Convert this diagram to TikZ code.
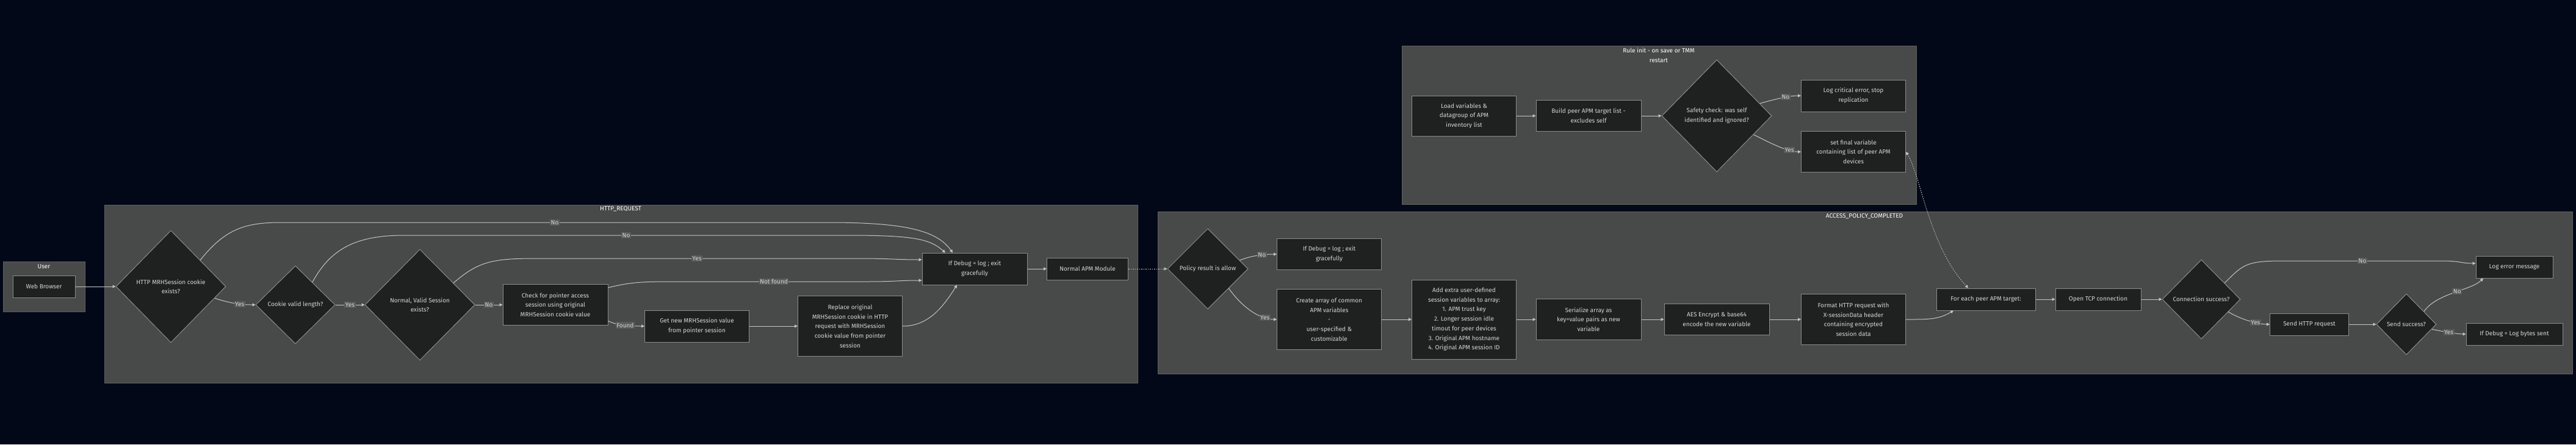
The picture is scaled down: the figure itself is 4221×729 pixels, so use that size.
\documentclass[tikz,border=0pt]{standalone}
\usepackage{fontspec}
\setmainfont{Fira Sans}
\usetikzlibrary{shapes.geometric, arrows.meta}
\definecolor{canvas}{HTML}{020817}
\definecolor{clusterbg}{HTML}{484949}
\definecolor{clusterline}{HTML}{5E6060}
\definecolor{nodebg}{HTML}{1F2020}
\definecolor{nodeline}{HTML}{8A8A8A}
\definecolor{edgeline}{HTML}{C4C4C4}
\definecolor{labelbg}{HTML}{5A5B5B}
\definecolor{nodetext}{HTML}{D4D4D4}
\tikzstyle{every node} = [font=\fontsize{10}{15.7}\selectfont, text=nodetext]
\tikzstyle{cluster} = [draw=clusterline, fill=clusterbg, line width=1pt]
\tikzstyle{title} = [text=white, align=center, inner sep=0pt]
\tikzstyle{box} = [rectangle, draw=nodeline, fill=nodebg, line width=1pt, align=center, inner sep=0pt]
\tikzstyle{decision} = [diamond, draw=nodeline, fill=nodebg, line width=1pt, align=center, inner sep=0pt]
\tikzstyle{flow} = [draw=edgeline, line width=1pt, -{Triangle[length=5pt, width=5pt]}]
\tikzstyle{dotflow} = [flow, dash pattern=on 1.5pt off 2pt]
\tikzstyle{lbl} = [fill=labelbg, inner sep=1.5pt]
\begin{document}
\begin{tikzpicture}[x=1pt, y=-1pt]
    \useasboundingbox (0,0) rectangle (4221,729);
    \fill[canvas] (0,0) rectangle (4221,729);
    \draw[cluster] (5,429) rectangle (139,511);
    \draw[cluster] (171,336) rectangle (1864,628);
    \draw[cluster] (2297,75) rectangle (3140,335);
    \draw[cluster] (1897,347) rectangle (4215,613);
    \node[title] (userT) at (72,437) {User};
    \node[title] (httpT) at (1017,343) {HTTP\_REQUEST};
    \node[title] (initT) at (2718,90.5) {Rule init - on save or TMM\\restart};
    \node[title] (policyT) at (3055,355) {ACCESS\_POLICY\_COMPLETED};

    \node[box, minimum width=102pt, minimum height=36pt] (web) at (72,470) {Web Browser};

    \node[decision, minimum width=180pt, minimum height=184pt] (cookie) at (280,470) {HTTP MRHSession cookie\\exists?};
    \node[decision, minimum width=130pt, minimum height=128pt] (length) at (484,500) {Cookie valid length?};
    \node[decision, minimum width=180pt, minimum height=182pt] (valid) at (688,500) {Normal, Valid Session\\exists?};
    \node[box, minimum width=172pt, minimum height=67pt] (pointer) at (910,500) {Check for pointer access\\session using original\\MRHSession cookie value};
    \node[box, minimum width=171pt, minimum height=52pt] (getnew) at (1142,535) {Get new MRHSession value\\from pointer session};
    \node[box, minimum width=171pt, minimum height=99pt] (replace) at (1393,535) {Replace original\\MRHSession cookie in HTTP\\request with MRHSession\\cookie value from pointer\\session};
    \node[box, minimum width=172pt, minimum height=52pt] (exitA) at (1597,441) {If Debug = log ; exit\\gracefully};
    \node[box, minimum width=133pt, minimum height=36pt] (apm) at (1782,441) {Normal APM Module};

    \node[box, minimum width=171pt, minimum height=66pt] (load) at (2399,190) {Load variables \&\\datagroup of APM\\inventory list};
    \node[box, minimum width=172pt, minimum height=51pt] (build) at (2603,190) {Build peer APM target list -\\excludes self};
    \node[decision, minimum width=180pt, minimum height=184pt] (safety) at (2813,190) {Safety check: was self\\identified and ignored?};
    \node[box, minimum width=171pt, minimum height=52pt] (critical) at (3037,157) {Log critical error, stop\\replication};
    \node[box, minimum width=171pt, minimum height=67pt] (final) at (3037,249) {set final variable\\containing list of peer APM\\devices};

    \node[decision, minimum width=132pt, minimum height=132pt] (policy) at (1979,441) {Policy result is allow};
    \node[box, minimum width=171pt, minimum height=51pt] (exitB) at (2178,417) {If Debug = log ; exit\\gracefully};
    \node[box, minimum width=171pt, minimum height=99pt] (common) at (2178,524) {Create array of common\\APM variables\\-\\user-specified \&\\customizable};
    \node[box, minimum width=171pt, minimum height=130pt] (extra) at (2399,524) {Add extra user-defined\\session variables to array:\\1. APM trust key\\2. Longer session idle\\timout for peer devices\\3. Original APM hostname\\4. Original APM session ID};
    \node[box, minimum width=172pt, minimum height=67pt] (serial) at (2603,524) {Serialize array as\\key=value pairs as new\\variable};
    \node[box, minimum width=172pt, minimum height=51pt] (encrypt) at (2813,524) {AES Encrypt \& base64\\encode the new variable};
    \node[box, minimum width=171pt, minimum height=83pt] (format) at (3037,524) {Format HTTP request with\\X-sessionData header\\containing encrypted\\session data};
    \node[box, minimum width=162pt, minimum height=36pt] (peer) at (3254,491) {For each peer APM target:};
    \node[box, minimum width=140pt, minimum height=36pt] (tcp) at (3438,491) {Open TCP connection};
    \node[decision, minimum width=128pt, minimum height=130pt] (connok) at (3607,491) {Connection success?};
    \node[box, minimum width=126pt, minimum height=36pt] (logerr) at (4120,438) {Log error message};
    \node[box, minimum width=129pt, minimum height=36pt] (send) at (3784,532) {Send HTTP request};
    \node[decision, minimum width=98pt, minimum height=100pt] (sendok) at (3943,532) {Send success?};
    \node[box, minimum width=158pt, minimum height=36pt] (bytes) at (4120,548) {If Debug = Log bytes sent};

    % HTTP_REQUEST
    \draw[flow] (web.east) -- (cookie.west);
    \draw[flow] (cookie.-15) .. controls +(25,8) and +(-25,0) .. node[lbl, pos=.62] {Yes} (length.west);
    \draw[flow] (cookie.42) .. controls +(40,-50) and +(-60,0) .. (460,365) -- node[lbl] {No} (1358,365) .. controls +(130,0) and +(-25,-35) .. ([xshift=-36]exitA.north);
    \draw[flow] (length.east) -- node[lbl] {Yes} (valid.west);
    \draw[flow] (length.53) .. controls +(30,-55) and +(-80,0) .. (663,386) -- node[lbl] {No} (1389,386) .. controls +(110,0) and +(-25,-22) .. ([xshift=-48]exitA.north);
    \draw[flow] (valid.east) -- node[lbl] {No} (pointer.west);
    \draw[flow] (valid.33) .. controls +(40,-35) and +(-70,0) .. (877,424) -- node[lbl] {Yes} (1407,424) .. controls +(50,0) and +(-40,0) .. ([yshift=15]exitA.west);
    \draw[flow] (pointer.18) .. controls +(40,-10) and +(-60,0) .. (1117,462) -- node[lbl] {Not found} (1419,462) .. controls +(50,0) and +(-40,0) .. ([yshift=-19]exitA.west);
    \draw[flow] (pointer.-17) .. controls +(15,8) and +(-20,0) .. node[lbl] {Found} (getnew.west);
    \draw[flow] (getnew.east) -- (replace.west);
    \draw[flow] (replace.east) .. controls +(40,0) and +(-25,40) .. ([xshift=-29]exitA.south);
    \draw[flow] (exitA.east) -- (apm.west);
    \draw[dotflow] (apm.east) -- (policy.west);

    % Rule init
    \draw[flow] (load.east) -- (build.west);
    \draw[flow] (build.east) -- (safety.west);
    \draw[flow] (safety.16) .. controls +(25,-7) and +(-20,0) .. node[lbl, pos=.6] {No} (critical.west);
    \draw[flow] (safety.-27) .. controls +(35,18) and +(-20,0) .. node[lbl, pos=.7] {Yes} (final.west);
    \draw[dotflow, {Triangle[length=5pt, width=5pt]}-{Triangle[length=5pt, width=5pt]}] (final.east) .. controls +(25,40) and +(-65,-70) .. ([xshift=-29]peer.north);

    % ACCESS_POLICY_COMPLETED
    \draw[flow] (policy.15) .. controls +(20,-8) and +(-20,0) .. node[lbl, pos=.6] {No} (exitB.west);
    \draw[flow] (policy.-43) .. controls +(25,35) and +(-25,0) .. node[lbl, pos=.75] {Yes} (common.west);
    \draw[flow] (common.east) -- (extra.west);
    \draw[flow] (extra.east) -- (serial.west);
    \draw[flow] (serial.east) -- (encrypt.west);
    \draw[flow] (encrypt.east) -- (format.west);
    \draw[flow] (format.east) .. controls +(35,0) and +(-25,15) .. ([xshift=-53]peer.south);
    \draw[flow] (peer.east) -- (tcp.west);
    \draw[flow] (tcp.east) -- (connok.west);
    \draw[flow] (connok.35) .. controls +(30,-30) and +(-60,0) .. (3740,428) -- node[lbl] {No} (4002,428) .. controls +(30,0) and +(-25,0) .. ([yshift=6]logerr.west);
    \draw[flow] (connok.-25) .. controls +(20,12) and +(-20,0) .. node[lbl, pos=.65] {Yes} (send.west);
    \draw[flow] (send.east) -- (sendok.west);
    \draw[flow] (sendok.36) .. controls +(20,-30) and +(-20,20) .. node[lbl, pos=.55] {No} ([xshift=-51]logerr.south);
    \draw[flow] (sendok.-11) .. controls +(15,3) and +(-15,0) .. node[lbl] {Yes} (bytes.west);
\end{tikzpicture}
\end{document}
